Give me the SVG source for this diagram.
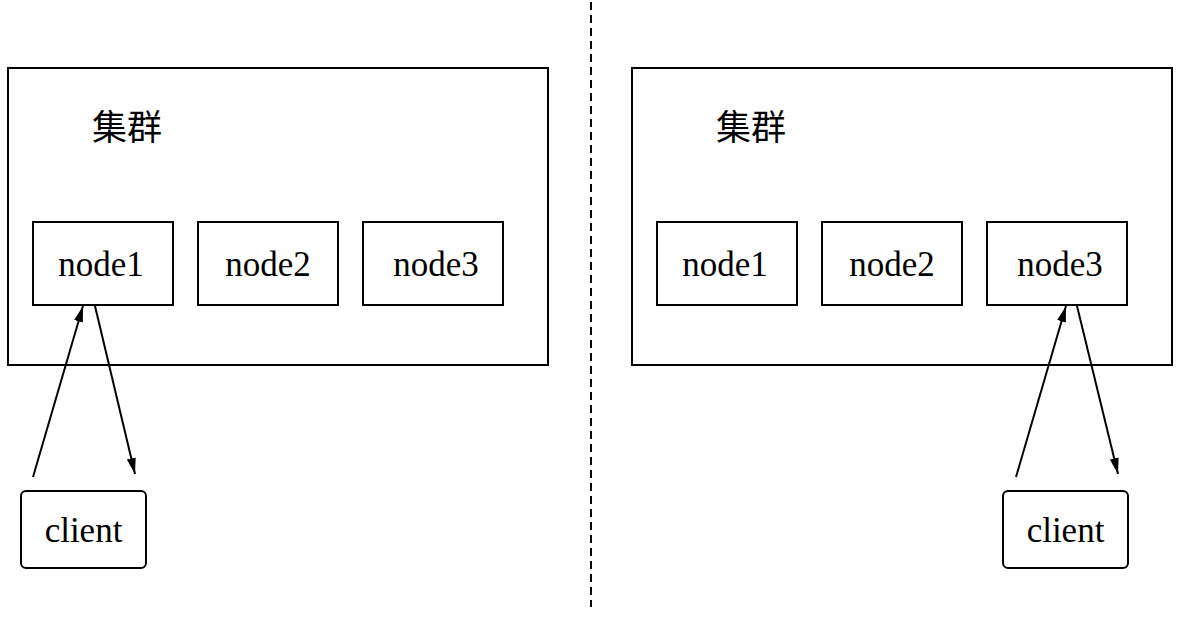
<svg xmlns="http://www.w3.org/2000/svg" width="1183" height="620" viewBox="0 0 1183 620">
<defs>
<marker id="ah" viewBox="0 0 16 10" refX="16" refY="5" markerWidth="16" markerHeight="10" markerUnits="userSpaceOnUse" orient="auto"><path d="M0,0.5 L16,5 L0,9.5 z" fill="#000"/></marker>
<style>
.box{fill:#fff;stroke:#000;stroke-width:2}
.t{font-family:"Liberation Serif","Noto Sans CJK SC",serif;font-size:35px;fill:#000;text-anchor:middle}
.c{font-family:"Noto Sans CJK SC","Liberation Serif",serif;font-size:35px;fill:#000}
.ln{stroke:#000;stroke-width:2;fill:none}
</style>
</defs>
<rect width="1183" height="620" fill="#fff"/>
<g id="divider"><line x1="591" y1="2" x2="591" y2="607" stroke="#000" stroke-width="2" stroke-dasharray="8,5"/></g>
<g id="cluster-left"><rect class="box" x="8" y="68" width="540" height="297"/><text class="c" x="92" y="140">集群</text></g>
<g id="cluster-right"><rect class="box" x="632" y="68" width="540" height="297"/><text class="c" x="716" y="140">集群</text></g>
<g id="l-node1"><rect class="box" x="33" y="222" width="140" height="83"/><text class="t" x="101" y="276">node1</text></g>
<g id="l-node2"><rect class="box" x="198" y="222" width="140" height="83"/><text class="t" x="268" y="276">node2</text></g>
<g id="l-node3"><rect class="box" x="363" y="222" width="140" height="83"/><text class="t" x="436" y="276">node3</text></g>
<g id="r-node1"><rect class="box" x="657" y="222" width="140" height="83"/><text class="t" x="725" y="276">node1</text></g>
<g id="r-node2"><rect class="box" x="822" y="222" width="140" height="83"/><text class="t" x="892" y="276">node2</text></g>
<g id="r-node3"><rect class="box" x="987" y="222" width="140" height="83"/><text class="t" x="1060" y="276">node3</text></g>
<g id="l-client"><rect class="box" x="21" y="491" width="125" height="77" rx="5"/><text class="t" x="83.5" y="542">client</text></g>
<g id="r-client"><rect class="box" x="1003" y="491" width="125" height="77" rx="5"/><text class="t" x="1065.5" y="542">client</text></g>
<g id="connectors">
<line class="ln" x1="33" y1="477" x2="83" y2="306" marker-end="url(#ah)"/>
<line class="ln" x1="95" y1="306" x2="135" y2="474" marker-end="url(#ah)"/>
<line class="ln" x1="1016" y1="477" x2="1066" y2="306" marker-end="url(#ah)"/>
<line class="ln" x1="1077" y1="306" x2="1118" y2="474" marker-end="url(#ah)"/>
</g>
</svg>
